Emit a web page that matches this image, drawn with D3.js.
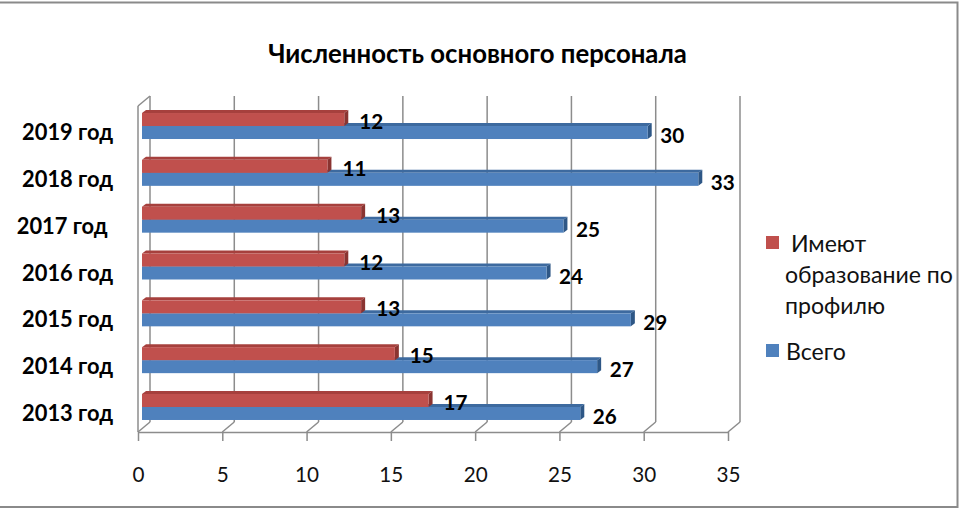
<!DOCTYPE html>
<html><head><meta charset="utf-8">
<script src="https://cdn.jsdelivr.net/npm/d3@7/dist/d3.min.js"></script>
<style>
html,body{margin:0;padding:0;background:#fff;}
svg{display:block;font-family:Lato,"Open Sans",sans-serif;}
text{white-space:pre;}
</style></head>
<body>
<svg id="chart" width="960" height="510"></svg>
<script>
// ---- data ----
const categories = ["2013 год","2014 год","2015 год","2016 год","2017 год ","2018 год","2019 год"];
const profileValues = [17,15,13,12,13,11,12];   // Имеют образование по профилю
const totalValues   = [26,27,29,24,25,33,30];   // Всего
const xTicks = [0,5,10,15,20,25,30,35];
const titleText = "Численность основного персонала";
const legendProfile = [" Имеют","образование по","профилю"];
const legendTotal = "Всего";

// ---- layout ----
const svg = d3.select("#chart");
const frontY = 432, backY = 422, wallTop = 96;
const depthX = 12, depthY = 10;
const barDX = 4, barDepthX = 4, barDepthY = 3, barH = 13;
const colors = {
  red:{front:"#C0504D", top:"#A6403D", end:"#8A3431"},
  blue:{front:"#4F81BD", top:"#3D6A9F", end:"#2E5786"}
};
const gridColor = "#8c8c8c";

function fitSize(text, weight, target){
  const t = svg.append("text").attr("font-size",20).attr("font-weight",weight).text(text);
  const w = t.node().getComputedTextLength(); t.remove();
  return 20*target/w;
}
const yearFont = fitSize("2019 год","bold",91);
const legendFont = fitSize("образование по","normal",168);
const numFont = fitSize("17","bold",24);
const tickFont = Math.min(numFont, 21);

// frame
svg.append("rect").attr("x",-10).attr("y",2.5).attr("width",967.5).attr("height",504.5)
  .attr("fill","#fff").attr("stroke","#8a8a8a").attr("stroke-width",2);

// title
svg.append("text").attr("x",477.5).attr("y",63).attr("text-anchor","middle")
  .attr("font-weight","bold").attr("font-size",fitSize(titleText,"bold",419)).attr("fill","#000").text(titleText);

const x = d3.scaleLinear().domain([0,35]).range([138,728]);
const y = d3.scaleBand().domain(categories.slice().reverse()).range([102.6,430.4]).padding(0);

// back wall gridlines
const g = svg.append("g");
g.selectAll(".grid").data(xTicks).join("line")
  .attr("x1",d=>x(d)+depthX).attr("x2",d=>x(d)+depthX)
  .attr("y1",wallTop).attr("y2",backY)
  .attr("stroke",gridColor).attr("stroke-width",1.5);
// floor diagonals
g.selectAll(".diag").data(xTicks).join("line")
  .attr("x1",d=>x(d)).attr("y1",frontY)
  .attr("x2",d=>x(d)+depthX).attr("y2",backY)
  .attr("stroke",gridColor).attr("stroke-width",1.5);
// left wall
g.append("line").attr("x1",x(0)).attr("x2",x(0)).attr("y1",wallTop+depthY).attr("y2",frontY)
  .attr("stroke",gridColor).attr("stroke-width",1.5);
g.append("line").attr("x1",x(0)).attr("y1",wallTop+depthY).attr("x2",x(0)+depthX).attr("y2",wallTop)
  .attr("stroke",gridColor).attr("stroke-width",1.5);

// x axis (front floor edge)
const axis = d3.axisBottom(x).tickValues(xTicks).tickSize(9).tickSizeOuter(0).tickPadding(26)
  .tickFormat(d3.format("d"));
const ax = svg.append("g").attr("transform",`translate(0,${frontY})`).call(axis);
ax.select(".domain").attr("stroke",gridColor).attr("stroke-width",1.5);
ax.selectAll(".tick line").attr("stroke",gridColor).attr("stroke-width",1.5);
ax.selectAll(".tick text").attr("font-size",tickFont).attr("fill","#111")
  .attr("font-family","Lato,'Open Sans',sans-serif");

// bars
function bar(sel, v, top, c){
  const x0 = x(0)+barDX, x1 = x(v)+barDX, y0 = top, y1 = top+barH;
  sel.append("polygon").attr("points",
    [[x0,y0],[x0+barDepthX,y0-barDepthY],[x1+barDepthX,y0-barDepthY],[x1,y0]].join(" "))
    .attr("fill",c.top);
  sel.append("polygon").attr("points",
    [[x1,y0],[x1+barDepthX,y0-barDepthY],[x1+barDepthX,y1-barDepthY],[x1,y1]].join(" "))
    .attr("fill",c.end);
  sel.append("rect").attr("x",x0).attr("y",y0).attr("width",x1-x0).attr("height",barH)
    .attr("fill",c.front);
}
const bars = svg.append("g");
categories.forEach((cat,i)=>{
  const c = y(cat) + y.bandwidth()/2;
  const gg = bars.append("g");
  bar(gg, totalValues[i], c, colors.blue);
  bar(gg, profileValues[i], c-barH, colors.red);
  gg.append("text").attr("x",x(profileValues[i])+barDX+15).attr("y",c-5)
    .attr("dominant-baseline","central").attr("font-weight","bold").attr("font-size",numFont)
    .attr("fill","#000").text(profileValues[i]);
  gg.append("text").attr("x",x(totalValues[i])+barDX+12.5).attr("y",c+9)
    .attr("dominant-baseline","central").attr("font-weight","bold").attr("font-size",numFont)
    .attr("fill","#000").text(totalValues[i]);
  svg.append("text").attr("x",113).attr("y",c+5.5).attr("text-anchor","end")
    .attr("dominant-baseline","central").attr("font-weight","bold").attr("font-size",yearFont)
    .attr("fill","#000").text(cat);
});

// legend
const lg = svg.append("g");
lg.append("rect").attr("x",766).attr("y",236).attr("width",13).attr("height",13).attr("fill",colors.red.front);
legendProfile.forEach((t,i)=>{
  lg.append("text").attr("x",785).attr("y",243+i*31).attr("dominant-baseline","central")
    .attr("font-size",legendFont).attr("fill","#111").text(t);
});
lg.append("rect").attr("x",766).attr("y",344).attr("width",13).attr("height",13).attr("fill",colors.blue.front);
lg.append("text").attr("x",786).attr("y",351).attr("dominant-baseline","central")
  .attr("font-size",legendFont).attr("fill","#111").text(legendTotal);
</script>
</body></html>
